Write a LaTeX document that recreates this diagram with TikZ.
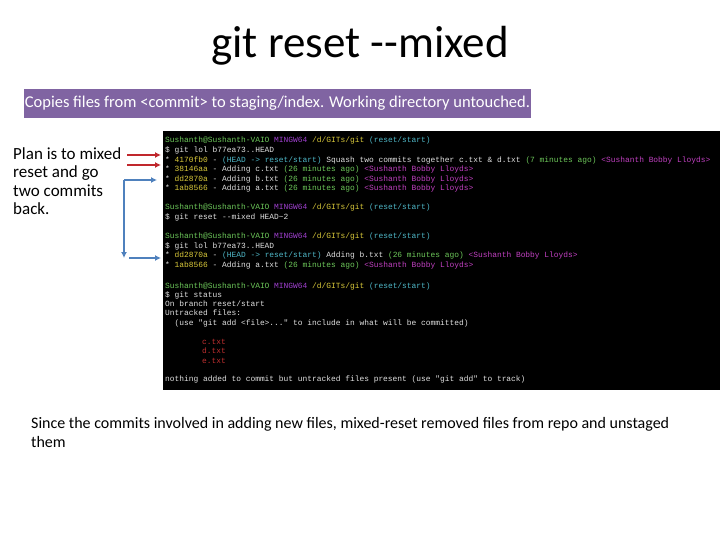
\documentclass[tikz,border=0pt]{standalone}
\usepackage{fontspec}
\usetikzlibrary{arrows.meta}
\setmainfont{Carlito}
\newfontfamily\termfont{Liberation Mono}
\definecolor{boxpurple}{HTML}{8064A2}
\definecolor{arrblue}{HTML}{4F81BD}
\definecolor{arrred}{HTML}{C0282D}
\definecolor{tg}{HTML}{6DC85A}
\definecolor{ty}{HTML}{D8C83A}
\definecolor{tc}{HTML}{4FB8C8}
\definecolor{tm}{HTML}{C040C0}
\definecolor{tp}{HTML}{A040D0}
\definecolor{tw}{HTML}{E0E0E0}
\definecolor{tr}{HTML}{C03030}
\begin{document}
\begin{tikzpicture}[x=1pt,y=-1pt,
  term/.style={anchor=base west,inner sep=0pt,font=\termfont\fontsize{7.9}{9}\selectfont,text=tw},
  body/.style={anchor=north west,inner sep=0pt,align=left}]
\useasboundingbox (0,0) rectangle (720,540);
\fill[white] (0,0) rectangle (720,540);
\node (title) at (360,46) {\fontsize{45}{48}\selectfont git reset {-}{-}mixed};
\node[fill=boxpurple,text=white,minimum width=507pt,minimum height=29pt,inner sep=0pt,font=\fontsize{16.5}{18}\selectfont] (desc) at (277.5,103.5) {Copies files from <commit> to staging/index. Working directory untouched.};
\fill[black] (163,131) rectangle (720,390);
\newcommand{\prm}{\textcolor{tg}{Sushanth@Sushanth-VAIO} \textcolor{tp}{MINGW64} \textcolor{ty}{/d/GITs/git} \textcolor{tc}{(reset/start)}}
\node[term] (l1) at (165,143) {\prm};
\node[term] (l2) at (165,153) {\$ git lol b77ea73..HEAD};
\node[term] (l3) at (165,162.5) {* \textcolor{ty}{4170fb0} - \textcolor{tc}{(HEAD -> reset/start)} Squash two commits together c.txt \& d.txt \textcolor{tg}{(7 minutes ago)} \textcolor{tm}{<Sushanth Bobby Lloyds>}};
\node[term] (l4) at (165,172) {* \textcolor{ty}{38146aa} - Adding c.txt \textcolor{tg}{(26 minutes ago)} \textcolor{tm}{<Sushanth Bobby Lloyds>}};
\node[term] (l5) at (165,181.5) {* \textcolor{ty}{dd2870a} - Adding b.txt \textcolor{tg}{(26 minutes ago)} \textcolor{tm}{<Sushanth Bobby Lloyds>}};
\node[term] (l6) at (165,191) {* \textcolor{ty}{1ab8566} - Adding a.txt \textcolor{tg}{(26 minutes ago)} \textcolor{tm}{<Sushanth Bobby Lloyds>}};
\node[term] (l8) at (165,210) {\prm};
\node[term] (l9) at (165,219.5) {\$ git reset --mixed HEAD\textasciitilde 2};
\node[term] (l11) at (165,238.5) {\prm};
\node[term] (l12) at (165,248) {\$ git lol b77ea73..HEAD};
\node[term] (l13) at (165,257.5) {* \textcolor{ty}{dd2870a} - \textcolor{tc}{(HEAD -> reset/start)} Adding b.txt \textcolor{tg}{(26 minutes ago)} \textcolor{tm}{<Sushanth Bobby Lloyds>}};
\node[term] (l14) at (165,267) {* \textcolor{ty}{1ab8566} - Adding a.txt \textcolor{tg}{(26 minutes ago)} \textcolor{tm}{<Sushanth Bobby Lloyds>}};
\node[term] (l16) at (165,288) {\prm};
\node[term] (l17) at (165,297.5) {\$ git status};
\node[term] (l18) at (165,306.5) {On branch reset/start};
\node[term] (l19) at (165,315.5) {Untracked files:};
\node[term] (l20) at (165,325) {\ \ (use "git add <file>..." to include in what will be committed)};
\node[term,text=tr] (l22) at (202,344) {c.txt};
\node[term,text=tr] (l23) at (202,353.5) {d.txt};
\node[term,text=tr] (l24) at (202,363) {e.txt};
\node[term] (l26) at (165,381.5) {nothing added to commit but untracked files present (use "git add" to track)};
\node[body,font=\fontsize{17}{18.5}\selectfont] (plan) at (13,147) {Plan is to mixed\\reset and go\\two commits\\back.};
\node[body,font=\fontsize{16}{19}\selectfont] (note) at (31,417) {Since the commits involved in adding new files, mixed-reset removed files from repo and unstaged\\them};
\coordinate (ra1) at (127,155); \coordinate (rb1) at (161,155);
\coordinate (ra2) at (127,165); \coordinate (rb2) at (161,165);
\draw[arrred,line width=2pt,-{Latex[length=6pt,width=6pt]}] (ra1) -- (rb1);
\draw[arrred,line width=2pt,-{Latex[length=6pt,width=6pt]}] (ra2) -- (rb2);
\coordinate (bt) at (124,180); \coordinate (bb) at (124,258);
\coordinate (bt2) at (157,180); \coordinate (bb1) at (129,258); \coordinate (bb2) at (161,258);
\draw[arrblue,line width=2pt,-{Latex[length=6pt,width=6pt]}] (bt) -- (bt2);
\draw[arrblue,line width=2pt,-{Latex[length=6pt,width=6pt]}] (bt) -- (bb);
\draw[arrblue,line width=2pt,-{Latex[length=6pt,width=6pt]}] (bb1) -- (bb2);
\end{tikzpicture}
\end{document}
